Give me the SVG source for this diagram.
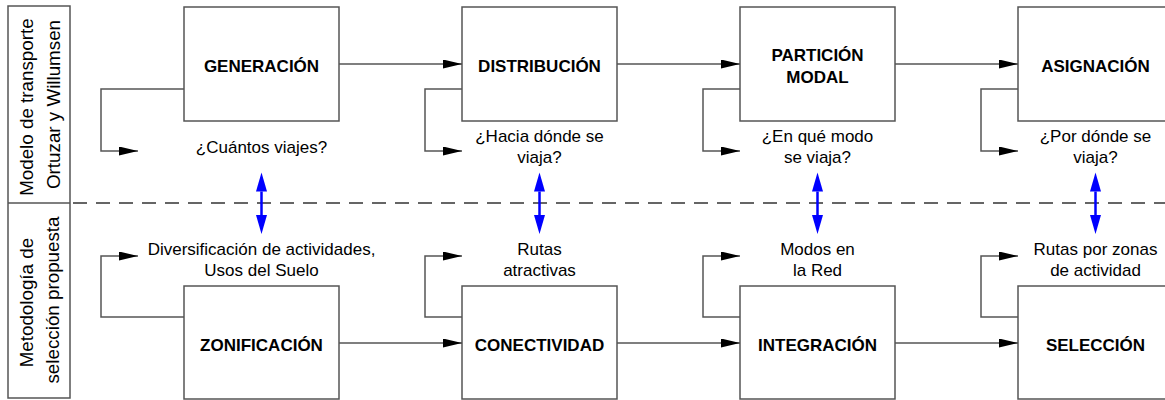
<svg xmlns="http://www.w3.org/2000/svg" width="1165" height="400" viewBox="0 0 1165 400">
  <style>
    text { font-family: "Liberation Sans", Arial, sans-serif; fill: #000; }
    .box { fill: #fff; stroke: #555; stroke-width: 1.5; }
    .title { font-size: 17px; font-weight: bold; text-anchor: middle; }
    .note { font-size: 17px; text-anchor: middle; }
    .side { font-size: 18.8px; text-anchor: middle; }
    .flow { fill: none; stroke: #555; stroke-width: 1.5; }
    .link { fill: none; stroke: #0000ff; stroke-width: 2.5; }
    .divider { fill: none; stroke: #333; stroke-width: 1.3; stroke-dasharray: 14 9; stroke-dashoffset: 20; }
  </style>
  <defs>
    <marker id="head" markerUnits="userSpaceOnUse" markerWidth="20" markerHeight="10" refX="19" refY="4.5" orient="auto">
      <path d="M0,0 L19,4.5 L0,9 z" fill="#000"/>
    </marker>
    <marker id="blueHead" markerUnits="userSpaceOnUse" markerWidth="20" markerHeight="12" refX="0" refY="5.5" orient="auto-start-reverse">
      <path d="M0,0 L19,5.5 L0,11 z" fill="#0000ff"/>
    </marker>
  </defs>

  <rect width="1165" height="400" fill="#fff"/>

  <!-- side column with the two row headings -->
  <g id="side-labels">
    <rect class="box" x="8" y="6" width="62" height="392"/>
    <line x1="8" y1="203" x2="70" y2="203" stroke="#555" stroke-width="1.5"/>
    <text class="side" transform="translate(33,104.5) rotate(-90)">
      <tspan x="0" y="0">Modelo de transporte</tspan>
      <tspan x="0" y="27">Ortuzar y Willumsen</tspan>
    </text>
    <text class="side" transform="translate(33,300) rotate(-90)">
      <tspan x="0" y="0">Metodología de</tspan>
      <tspan x="0" y="26">selección propuesta</tspan>
    </text>
  </g>

  <line class="divider" x1="70" y1="203" x2="1165" y2="203"/>

  <!-- upper row: four-stage model -->
  <g id="generacion">
    <rect class="box" x="184" y="7" width="155" height="114"/>
    <text class="title" x="261.5" y="72">GENERACIÓN</text>
    <text class="note" x="261.5" y="153">¿Cuántos viajes?</text>
  </g>
  <g id="distribucion">
    <rect class="box" x="462" y="7" width="155" height="114"/>
    <text class="title" x="539.5" y="72">DISTRIBUCIÓN</text>
    <text class="note" x="539.5" y="142">¿Hacia dónde se</text>
    <text class="note" x="539.5" y="163">viaja?</text>
  </g>
  <g id="particion-modal">
    <rect class="box" x="740" y="7" width="155" height="114"/>
    <text class="title" x="817.5" y="61">PARTICIÓN</text>
    <text class="title" x="817.5" y="83">MODAL</text>
    <text class="note" x="817.5" y="142">¿En qué modo</text>
    <text class="note" x="817.5" y="163">se viaja?</text>
  </g>
  <g id="asignacion">
    <rect class="box" x="1018" y="7" width="155" height="114"/>
    <text class="title" x="1095.5" y="72">ASIGNACIÓN</text>
    <text class="note" x="1095.5" y="142">¿Por dónde se</text>
    <text class="note" x="1095.5" y="163">viaja?</text>
  </g>

  <!-- lower row: proposed selection method -->
  <g id="zonificacion">
    <rect class="box" x="184" y="286" width="155" height="113"/>
    <text class="title" x="261.5" y="351">ZONIFICACIÓN</text>
    <text class="note" x="261.5" y="255">Diversificación de actividades,</text>
    <text class="note" x="261.5" y="276">Usos del Suelo</text>
  </g>
  <g id="conectividad">
    <rect class="box" x="462" y="286" width="155" height="113"/>
    <text class="title" x="539.5" y="351">CONECTIVIDAD</text>
    <text class="note" x="539.5" y="255">Rutas</text>
    <text class="note" x="539.5" y="276">atractivas</text>
  </g>
  <g id="integracion">
    <rect class="box" x="740" y="286" width="155" height="113"/>
    <text class="title" x="817.5" y="351">INTEGRACIÓN</text>
    <text class="note" x="817.5" y="255">Modos en</text>
    <text class="note" x="817.5" y="276">la Red</text>
  </g>
  <g id="seleccion">
    <rect class="box" x="1018" y="286" width="155" height="113"/>
    <text class="title" x="1095.5" y="351">SELECCIÓN</text>
    <text class="note" x="1095.5" y="255">Rutas por zonas</text>
    <text class="note" x="1095.5" y="276">de actividad</text>
  </g>

  <g id="connectors">
    <!-- stage to stage -->
    <path class="flow" d="M339,64 H462" marker-end="url(#head)"/>
    <path class="flow" d="M617,64 H740" marker-end="url(#head)"/>
    <path class="flow" d="M895,64 H1018" marker-end="url(#head)"/>
    <path class="flow" d="M339,343 H462" marker-end="url(#head)"/>
    <path class="flow" d="M617,343 H740" marker-end="url(#head)"/>
    <path class="flow" d="M895,343 H1018" marker-end="url(#head)"/>
    <!-- loops to the questions -->
    <path class="flow" d="M184,89 H101 V151 H138" marker-end="url(#head)"/>
    <path class="flow" d="M462,89 H425 V151 H462" marker-end="url(#head)"/>
    <path class="flow" d="M740,89 H703 V151 H740" marker-end="url(#head)"/>
    <path class="flow" d="M1018,89 H981 V151 H1018" marker-end="url(#head)"/>
    <!-- loops to the criteria -->
    <path class="flow" d="M184,317 H101 V256 H138" marker-end="url(#head)"/>
    <path class="flow" d="M462,317 H425 V256 H462" marker-end="url(#head)"/>
    <path class="flow" d="M740,317 H703 V256 H740" marker-end="url(#head)"/>
    <path class="flow" d="M1018,317 H981 V256 H1018" marker-end="url(#head)"/>
    <!-- correspondences between the rows -->
    <path class="link" d="M261.5,191.5 V215" marker-start="url(#blueHead)" marker-end="url(#blueHead)"/>
    <path class="link" d="M539.5,191.5 V215" marker-start="url(#blueHead)" marker-end="url(#blueHead)"/>
    <path class="link" d="M817.5,191.5 V215" marker-start="url(#blueHead)" marker-end="url(#blueHead)"/>
    <path class="link" d="M1095.5,191.5 V215" marker-start="url(#blueHead)" marker-end="url(#blueHead)"/>
  </g>
</svg>
